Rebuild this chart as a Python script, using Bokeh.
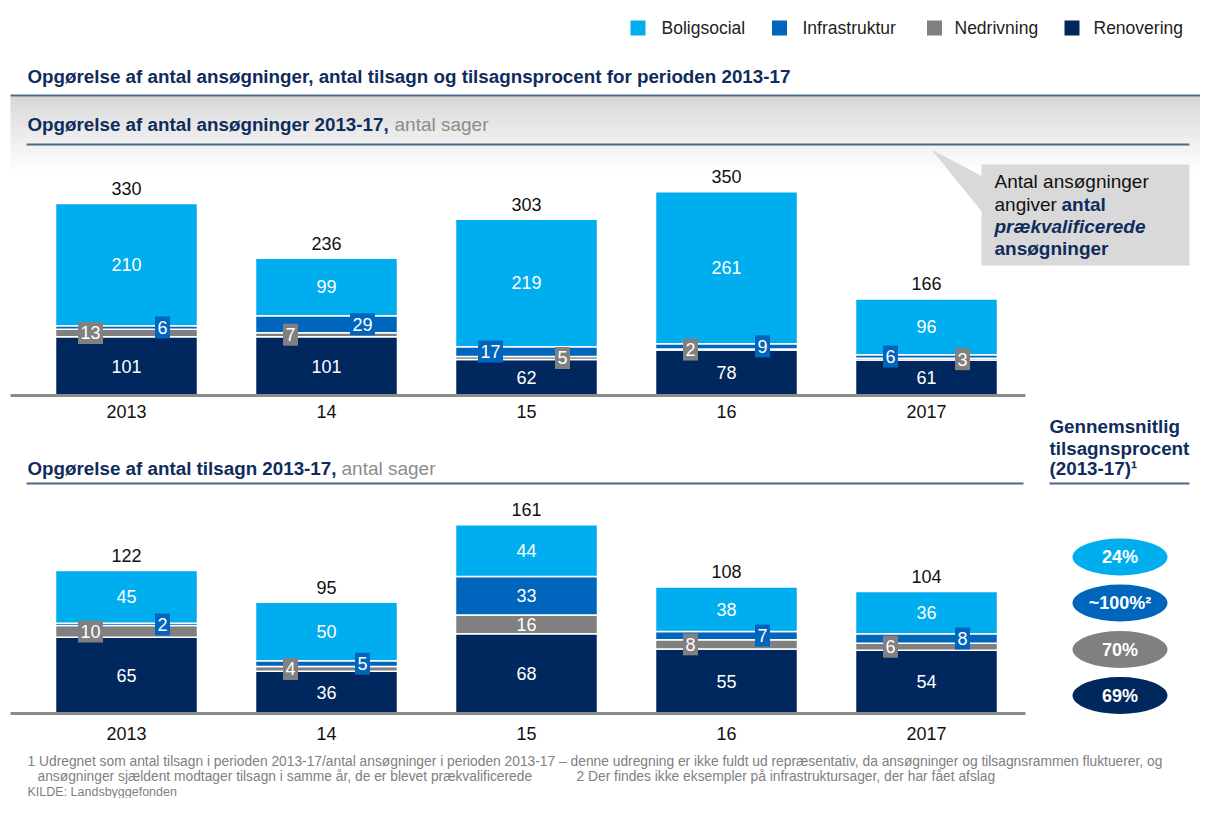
import numpy as np
from bokeh.plotting import figure
from bokeh.models import Range1d, ColumnDataSource
from bokeh.core.properties import value
from bokeh.embed import file_html
from bokeh.resources import INLINE

# ---------------- data ----------------
years = ["2013", "14", "15", "16", "2017"]
series = ["Boligsocial", "Infrastruktur", "Nedrivning", "Renovering"]
series_colors = ["#00ADEF", "#0065BD", "#808080", "#00285E"]

ans_renovering = [101, 101, 62, 78, 61]
ans_nedrivning = [13, 7, 5, 2, 3]
ans_infrastruktur = [6, 29, 17, 9, 6]
ans_boligsocial = [210, 99, 219, 261, 96]
ans_total = [330, 236, 303, 350, 166]

tils_renovering = [65, 36, 68, 55, 54]
tils_nedrivning = [10, 4, 16, 8, 6]
tils_infrastruktur = [2, 5, 33, 7, 8]
tils_boligsocial = [45, 50, 44, 38, 36]
tils_total = [122, 95, 161, 108, 104]

rate_labels = ["24%", "~100%²", "70%", "69%"]

title_text = "Opgørelse af antal ansøgninger, antal tilsagn og tilsagnsprocent for perioden 2013-17"
sub1_bold = "Opgørelse af antal ansøgninger 2013-17,"
sub2_bold = "Opgørelse af antal tilsagn 2013-17,"
sub_unit = "antal sager"
side_head = ["Gennemsnitlig", "tilsagnsprocent", "(2013-17)¹"]
foot1 = ("1 Udregnet som antal tilsagn i perioden 2013-17/antal ansøgninger i perioden 2013-17 – denne "
         "udregning er ikke fuldt ud repræsentativ, da ansøgninger og tilsagnsrammen fluktuerer, og")
foot2a = "ansøgninger sjældent modtager tilsagn i samme år, de er blevet prækvalificerede"
foot2b = "2 Der findes ikke eksempler på infrastruktursager, der har fået afslag"
source_text = "KILDE: Landsbyggefonden"

# ---------------- layout ----------------
W, H = 1200, 798
FONT = value("Liberation Sans")
NAVY = "#0F2C5C"
STEEL = "#4A6990"
GRAYTXT = "#8C8C8C"

p = figure(width=W, height=H, output_backend="svg", toolbar_location=None,
           x_range=Range1d(0, W), y_range=Range1d(H, 0),
           x_axis_location=None, y_axis_location=None, min_border=0, title=None)
p.grid.visible = False
p.outline_line_color = None
p.background_fill_color = "white"
p.border_fill_color = "white"

base1, k1 = 395, 0.5818
base2, k2 = 713, 1.172
cx0, step = 126, 200.0
p.extra_y_ranges = {
    "top": Range1d(-(H - base1) / k1, base1 / k1),
    "bot": Range1d(-(H - base2) / k2, base2 / k2),
}
p.extra_x_ranges = {"cat": Range1d(-cx0 / step, (W - cx0) / step)}

# gradient band under the main title
n = 38
tops = [96 + 2 * j for j in range(n)]
cols = []
for j in range(n):
    c = int(0xD4 + (0xFF - 0xD4) * (j / (n - 1)) ** 0.9)
    cols.append("#%02x%02x%02x" % (c, c, c))
p.quad(left=10, right=W, top=tops, bottom=[t + 2.2 for t in tops], color=cols, line_color=None)


def txt(x, y, t, size, color, style="normal", align="left", **kw):
    p.text(x=x, y=y, text=t, text_font=FONT, text_font_size=size, text_font_style=style,
           text_color=color, text_align=align, text_baseline="middle", **kw)


# title and separator lines
txt([27], [76], [title_text], "18.8px", NAVY, "bold")
p.line(x=[10, W], y=[95, 95], line_color=STEEL, line_width=2)

txt([27], [124], [sub1_bold], "18.8px", NAVY, "bold")
txt([394], [124], [sub_unit], "19px", GRAYTXT)
p.line(x=[26, 1189], y=[144, 144], line_color=STEEL, line_width=2)

txt([27], [467.5], [sub2_bold], "18.8px", NAVY, "bold")
txt([341], [467.5], [sub_unit], "19px", GRAYTXT)
p.line(x=[26, 1023], y=[483, 483], line_color=STEEL, line_width=2)
p.line(x=[1049, 1189], y=[483, 483], line_color=STEEL, line_width=2)

# legend
leg_x = [637.5, 779, 934, 1071.5]
leg_tx = [661, 802, 954, 1093]
p.rect(x=leg_x, y=[27.5] * 4, width=15, height=15, color=series_colors, line_color=None)
txt(leg_tx, [27.5] * 4, series, "17.5px", "#222222")

# callout
p.patch(x=[931, 982, 982], y=[149, 176, 212], color="#D9D9D9", line_color=None)
p.quad(left=981, right=1189, top=164, bottom=265, color="#D9D9D9", line_color=None)
txt([994, 994], [181, 204], ["Antal ansøgninger", "angiver"], "19px", "#111111")
txt([1061, 994], [204, 248], ["antal", "ansøgninger"], "19px", NAVY, "bold")
txt([994], [226], ["prækvalificerede"], "19px", NAVY, "bold italic")

# right side header
txt([1049] * 3, [425.5, 447.5, 468], side_head, "18.8px", NAVY, "bold")

# rate ellipses
ell_y = [556.5, 602.5, 649, 695]
p.ellipse(x=[1119.5] * 4, y=ell_y, width=95, height=37, color=series_colors, line_color=None)
txt([1119.5] * 4, ell_y, rate_labels, "18px", "white", "bold", "center")


# ---------------- stacked charts ----------------
def chart(vals, totals, yname, k, swap, cat_y):
    order = ["Renovering", "Nedrivning", "Infrastruktur", "Boligsocial"]
    colmap = dict(zip(series, series_colors))
    idx = list(range(len(years)))
    data = dict(x=idx)
    data.update(vals)
    src = ColumnDataSource(data)
    p.vbar_stack(order, x="x", width=0.71, color=[colmap[s] for s in order], line_color="white",
                 line_width=1.5, source=src, x_range_name="cat", y_range_name=yname)
    # baseline
    p.line(x=[10, 1025], y=[0, 0], line_color="#8C8C8C", line_width=3, y_range_name=yname)
    bottoms = np.zeros(len(years))
    bx, by, bt = [], [], []
    sx, sy, st, sc, sw = [], [], [], [], []
    for s in order:
        v = np.array(vals[s], dtype=float)
        mid = bottoms + v / 2
        for i in idx:
            if v[i] * k >= 18:
                bx.append(i)
                by.append(mid[i])
                bt.append(str(int(v[i])))
            else:
                side = -1 if s == "Nedrivning" else 1
                if swap[i]:
                    side = -side
                sx.append(i + side * 0.18)
                sy.append(mid[i])
                st.append(str(int(v[i])))
                sc.append(colmap[s])
                sw.append(15 if v[i] < 10 else 25)
        bottoms += v
    txt(bx, by, bt, "18px", "white", "normal", "center", x_range_name="cat", y_range_name=yname)
    p.rect(x=sx, y=sy, width=sw, height=22, width_units="screen", height_units="screen",
           color=sc, line_color=None, x_range_name="cat", y_range_name=yname)
    txt(sx, sy, st, "18px", "white", "normal", "center", x_range_name="cat", y_range_name=yname)
    txt(idx, totals, [str(t) for t in totals], "18px", "#111111", "normal", "center",
        y_offset=-15, x_range_name="cat", y_range_name=yname)
    txt(idx, [cat_y] * len(idx), years, "18px", "#111111", "normal", "center", x_range_name="cat")


chart({"Renovering": ans_renovering, "Nedrivning": ans_nedrivning,
       "Infrastruktur": ans_infrastruktur, "Boligsocial": ans_boligsocial},
      ans_total, "top", k1, [False, False, True, False, True], 410.5)
chart({"Renovering": tils_renovering, "Nedrivning": tils_nedrivning,
       "Infrastruktur": tils_infrastruktur, "Boligsocial": tils_boligsocial},
      tils_total, "bot", k2, [False] * 5, 733)

# footnotes
txt([27], [761], [foot1], "13.8px", "#808080")
txt([37, 576], [775.5], [foot2a, foot2b][:1], "13.8px", "#808080")
txt([576], [775.5], [foot2b], "13.8px", "#808080")
txt([27], [791], [source_text], "12.5px", "#808080")

open("out.html", "w").write(file_html(p, INLINE))
